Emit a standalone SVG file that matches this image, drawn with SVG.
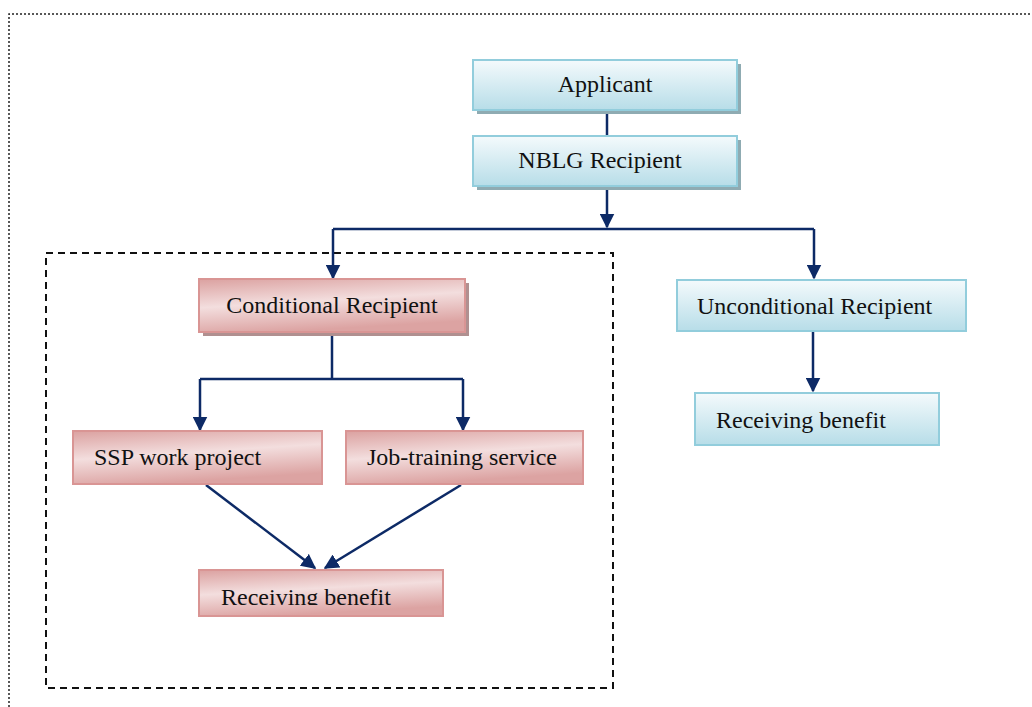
<svg xmlns="http://www.w3.org/2000/svg" width="1032" height="707" viewBox="0 0 1032 707">
<style>
.t{font-family:"Liberation Serif","Times New Roman",serif;font-size:24px;fill:#111}
.b{fill:url(#gb);stroke:#92cddc;stroke-width:2}
.p{fill:url(#gp);stroke:#d99594;stroke-width:2}
.c{fill:none;stroke:#0d2a66;stroke-width:2.5}
</style>
<defs>
<linearGradient id="gb" x1="0" y1="0" x2="0" y2="1">
<stop offset="0" stop-color="#f4fafc"/><stop offset="1" stop-color="#b7dde8"/>
</linearGradient>
<linearGradient id="gp" x1="0" y1="0" x2="0.3" y2="1">
<stop offset="0" stop-color="#dba1a0"/><stop offset="0.5" stop-color="#f3dede"/><stop offset="1" stop-color="#dca3a2"/>
</linearGradient>
<marker id="a" viewBox="0 0 10 10" refX="9" refY="5" markerWidth="6" markerHeight="6" orient="auto" markerUnits="strokeWidth">
<path d="M0,0L10,5L0,10z" fill="#0d2a66"/>
</marker>
<clipPath id="clip"><rect x="199" y="570" width="245" height="35"/></clipPath>
</defs>
<path d="M9,707V14H1032" fill="none" stroke="#222" stroke-width="1.5" stroke-dasharray="2,2"/>
<rect x="46" y="253" width="567" height="435" fill="none" stroke="#111" stroke-width="2" stroke-dasharray="7,5"/>
<g id="connectors">
<path class="c" d="M607,110V136"/>
<path class="c" d="M607,186V227" marker-end="url(#a)"/>
<path class="c" d="M333,229H814"/>
<path class="c" d="M333,229V278" marker-end="url(#a)"/>
<path class="c" d="M814,229V278" marker-end="url(#a)"/>
<path class="c" d="M813,332V391" marker-end="url(#a)"/>
<path class="c" d="M332,334V379"/>
<path class="c" d="M200,379H463"/>
<path class="c" d="M200,379V430" marker-end="url(#a)"/>
<path class="c" d="M463,379V430" marker-end="url(#a)"/>
<path class="c" d="M206,485L315,568" marker-end="url(#a)"/>
<path class="c" d="M461,485L325,568" marker-end="url(#a)"/>
</g>
<g id="applicant">
<rect x="477" y="64" width="264" height="50" fill="#8fabb2"/>
<rect class="b" x="473" y="60" width="264" height="50"/>
<text class="t" x="605" y="92" text-anchor="middle">Applicant</text>
</g>
<g id="nblg">
<rect x="477" y="140" width="264" height="50" fill="#8fabb2"/>
<rect class="b" x="473" y="136" width="264" height="50"/>
<text class="t" x="600" y="168" text-anchor="middle">NBLG Recipient</text>
</g>
<g id="conditional">
<rect x="203" y="283" width="266" height="53" fill="#b09090"/>
<rect class="p" x="199" y="279" width="266" height="53"/>
<text class="t" x="332" y="313" text-anchor="middle">Conditional Recipient</text>
</g>
<g id="unconditional">
<rect class="b" x="677" y="280" width="289" height="51"/>
<text class="t" x="697" y="314">Unconditional Recipient</text>
</g>
<g id="benefit-right">
<rect class="b" x="695" y="393" width="244" height="52"/>
<text class="t" x="716" y="428">Receiving benefit</text>
</g>
<g id="ssp">
<rect class="p" x="73" y="431" width="249" height="53"/>
<text class="t" x="94" y="465">SSP work project</text>
</g>
<g id="job">
<rect class="p" x="346" y="431" width="237" height="53"/>
<text class="t" x="367" y="465">Job-training service</text>
</g>
<g id="benefit-left">
<rect class="p" x="199" y="570" width="244" height="46"/>
<text class="t" x="221" y="605" clip-path="url(#clip)">Receiving benefit</text>
</g>
</svg>
